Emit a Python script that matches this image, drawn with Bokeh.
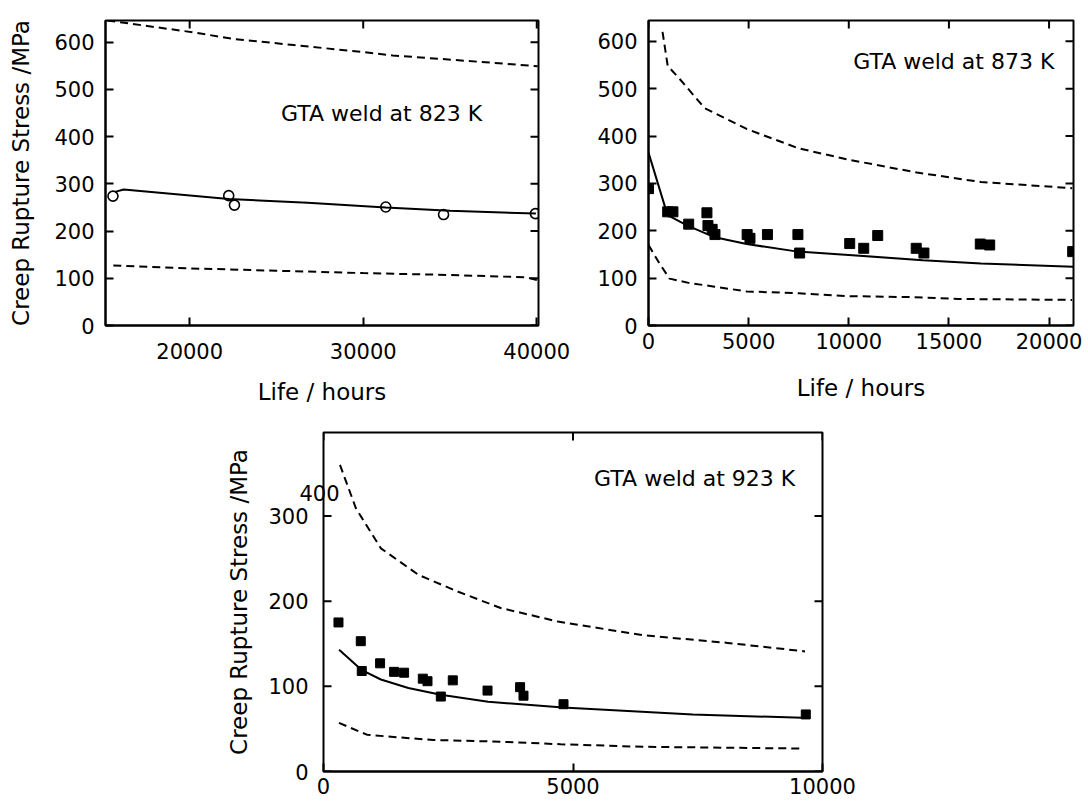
import math
from bokeh.plotting import figure
from bokeh.layouts import column, row
from bokeh.models import Spacer, Label, FixedTicker, Range1d, BasicTickFormatter, LinearAxis
from bokeh.embed import file_html
from bokeh.resources import INLINE

# ---------------- data: GTA weld at 823 K ----------------
k823_obs_life = [15580, 22250, 22580, 31300, 34630, 39920]
k823_obs_stress = [274, 275, 255, 251, 235, 237]
k823_fit_life = [15700, 16200, 22250, 26800, 31300, 35000, 39950]
k823_fit_stress = [283, 288, 268, 260, 250, 243, 237]
k823_upper_life = [15250, 20200, 22500, 26000, 30000, 31700, 35800, 40050]
k823_upper_stress = [646, 621, 607, 594, 579, 572, 561, 549]
k823_lower_life = [15600, 20000, 25000, 30000, 35000, 39400, 40050]
k823_lower_stress = [127, 121, 116, 111, 107, 102, 96]

# ---------------- data: GTA weld at 873 K ----------------
k873_obs_life = [0, 958, 1220, 2006, 2917, 2968, 3178, 3318, 4925, 5066, 5940,
                 7460, 7546, 10046, 10746, 11445, 13367, 13752, 16566, 17036, 21180]
k873_obs_stress = [289, 240, 240, 214, 238, 211, 203, 192, 192, 184, 192,
                   192, 153, 173, 163, 190, 163, 153, 172, 170, 156]
k873_fit_life = [0, 950, 1950, 3250, 4900, 7450, 10000, 13700, 16600, 21200]
k873_fit_stress = [365, 233, 211, 187, 172, 156, 149, 138, 131, 124]
k873_upper_life = [700, 960, 1570, 2800, 4900, 7500, 10000, 13400, 16600, 21150]
k873_upper_stress = [620, 548, 520, 459, 415, 374, 350, 323, 303, 290]
k873_lower_life = [0, 520, 1050, 2000, 3300, 4900, 7500, 10000, 13000, 15500, 21150]
k873_lower_stress = [170, 133, 99, 90, 82, 72, 68, 62, 60, 56, 54]

# ---------------- data: GTA weld at 923 K ----------------
k923_obs_life = [300, 747, 767, 1134, 1415, 1615, 1990, 2084, 2351, 2591,
                 3287, 3940, 4008, 4810, 9665]
k923_obs_stress = [175, 153, 118, 127, 117, 116, 109, 106, 88, 107,
                   95, 99, 89, 79, 67]
k923_fit_life = [313, 770, 1150, 1700, 2350, 3300, 4800, 7400, 9600]
k923_fit_stress = [143, 119, 108, 98, 90, 82, 75, 67, 63]
k923_upper_life = [330, 650, 1150, 1900, 2700, 3550, 4700, 6400, 8100, 9650]
k923_upper_stress = [360, 309, 262, 231, 211, 192, 176, 160, 151, 141]
k923_lower_life = [310, 880, 2200, 3550, 4750, 6400, 9550]
k923_lower_stress = [57, 43, 37, 35, 32, 29, 27]

# ---------------- ticks / labels ----------------
ticks_x_823 = [20000, 30000, 40000]
ticks_x_873 = [0, 5000, 10000, 15000, 20000]
ticks_x_923 = [0, 5000, 10000]
ticks_y_top = [0, 100, 200, 300, 400, 500, 600]
ticks_y_923 = [0, 100, 200, 300]
ylabel = "Creep Rupture Stress /MPa"
xlabel = "Life / hours"
title_823 = "GTA weld at 823 K"
title_873 = "GTA weld at 873 K"
title_923 = "GTA weld at 923 K"
# the original 923 K panel carries a misplaced "400" tick label at about 327 MPa
stray_label_923 = "400"
stray_label_923_at = 327

FONT = "DejaVu Sans"
TICK_FS = "21px"
LAB_FS = "23px"


def style_axis(ax, ticks):
    ax.ticker = FixedTicker(ticks=ticks)
    ax.formatter = BasicTickFormatter(use_scientific=False)
    ax.axis_line_color = "black"
    ax.axis_line_width = 2
    ax.major_tick_in = 8
    ax.major_tick_out = 0
    ax.major_tick_line_width = 2
    ax.major_tick_line_color = "black"
    ax.minor_tick_line_color = None
    ax.major_label_text_font = FONT
    ax.major_label_text_font_size = TICK_FS
    ax.major_label_text_color = "black"
    ax.axis_label_text_font = FONT
    ax.axis_label_text_font_size = LAB_FS
    ax.axis_label_text_font_style = "normal"
    ax.axis_label_text_color = "black"


def frame_style(p):
    p.outline_line_color = "black"
    p.outline_line_width = 2
    p.grid.visible = False
    p.background_fill_color = "white"
    p.border_fill_color = "white"


def edge_ticks(p, xticks, yticks, left=False):
    # inward tick marks on the top and right (and optionally left) frame edges
    xr, yr = p.x_range, p.y_range
    p.scatter(xticks, [yr.end] * len(xticks), marker="dash", angle=math.pi / 2, size=16,
              line_color="black", line_width=2)
    p.scatter([xr.end] * len(yticks), yticks, marker="dash", size=16,
              line_color="black", line_width=2)
    if left:
        p.scatter([xr.start] * len(yticks), yticks, marker="dash", size=16,
                  line_color="black", line_width=2)


def draw(p, obs_x, obs_y, fit_x, fit_y, up_x, up_y, lo_x, lo_y, marker, msize, filled):
    p.line(up_x, up_y, line_color="black", line_width=2, line_dash="8 5")
    p.line(lo_x, lo_y, line_color="black", line_width=2, line_dash="8 5")
    p.line(fit_x, fit_y, line_color="black", line_width=2)
    if filled:
        p.scatter(obs_x, obs_y, marker=marker, size=msize, fill_color="black", line_color="black")
    else:
        p.scatter(obs_x, obs_y, marker=marker, size=msize, fill_color=None,
                  line_color="black", line_width=1.6)


def title_label(p, x, y, text):
    p.add_layout(Label(x=x, y=y, text=text, text_align="left", text_baseline="middle",
                       text_font=FONT, text_font_size="22px", text_color="black"))


# ---------------- panel 1: 823 K ----------------
p1 = figure(width=578, height=410, x_range=Range1d(15150, 40100), y_range=Range1d(0, 646),
            min_border_left=105, min_border_right=40, min_border_top=20, min_border_bottom=83,
            output_backend="svg", toolbar_location=None)
frame_style(p1)
style_axis(p1.xaxis[0], ticks_x_823)
style_axis(p1.yaxis[0], ticks_y_top)
p1.xaxis[0].major_label_standoff = 17
p1.xaxis[0].axis_label = xlabel
p1.xaxis[0].axis_label_standoff = 17
p1.yaxis[0].major_label_standoff = 11
p1.yaxis[0].axis_label = ylabel
p1.yaxis[0].axis_label_standoff = 17
edge_ticks(p1, ticks_x_823, ticks_y_top)
draw(p1, k823_obs_life, k823_obs_stress, k823_fit_life, k823_fit_stress,
     k823_upper_life, k823_upper_stress, k823_lower_life, k823_lower_stress, "circle", 10, False)
title_label(p1, 25260, 449, title_823)

# ---------------- panel 2: 873 K ----------------
p2 = figure(width=507, height=410, x_range=Range1d(0, 21220), y_range=Range1d(0, 644),
            min_border_left=70, min_border_right=12, min_border_top=9, min_border_bottom=85,
            output_backend="svg", toolbar_location=None)
frame_style(p2)
style_axis(p2.xaxis[0], ticks_x_873)
style_axis(p2.yaxis[0], ticks_y_top)
p2.xaxis[0].major_label_standoff = 7
p2.xaxis[0].axis_label = xlabel
p2.xaxis[0].axis_label_standoff = 23
p2.yaxis[0].major_label_standoff = 11
edge_ticks(p2, ticks_x_873, ticks_y_top)
draw(p2, k873_obs_life, k873_obs_stress, k873_fit_life, k873_fit_stress,
     k873_upper_life, k873_upper_stress, k873_lower_life, k873_lower_stress, "square", 10, True)
title_label(p2, 10220, 558, title_873)

# ---------------- panel 3: 923 K ----------------
p3 = figure(width=662, height=395, x_range=Range1d(0, 10000), y_range=Range1d(0, 398),
            min_border_left=123, min_border_right=40, min_border_top=22, min_border_bottom=34,
            y_axis_location=None, output_backend="svg", toolbar_location=None)
frame_style(p3)
style_axis(p3.xaxis[0], ticks_x_923)
p3.xaxis[0].major_label_standoff = 6

# innermost left axis: only the stray "400" label, straddling the frame edge
ax_stray = LinearAxis()
style_axis(ax_stray, [stray_label_923_at])
ax_stray.major_label_overrides = {stray_label_923_at: stray_label_923}
ax_stray.major_tick_in = 0
ax_stray.axis_line_color = None
ax_stray.major_label_standoff = -16
p3.add_layout(ax_stray, "left")

# regular left axis (tick marks are drawn on the frame edge separately)
ax3 = LinearAxis()
style_axis(ax3, ticks_y_923)
ax3.major_tick_in = 0
ax3.axis_line_color = None
ax3.major_label_standoff = -12
ax3.axis_label = ylabel
ax3.axis_label_standoff = 13
p3.add_layout(ax3, "left")

edge_ticks(p3, ticks_x_923, ticks_y_923, left=True)
draw(p3, k923_obs_life, k923_obs_stress, k923_fit_life, k923_fit_stress,
     k923_upper_life, k923_upper_stress, k923_lower_life, k923_lower_stress, "square", 9, True)
title_label(p3, 5423, 344, title_923)

layout = column(row(p1, p2), row(Spacer(width=200, height=395), p3))

open("out.html", "w").write(file_html(layout, INLINE))
